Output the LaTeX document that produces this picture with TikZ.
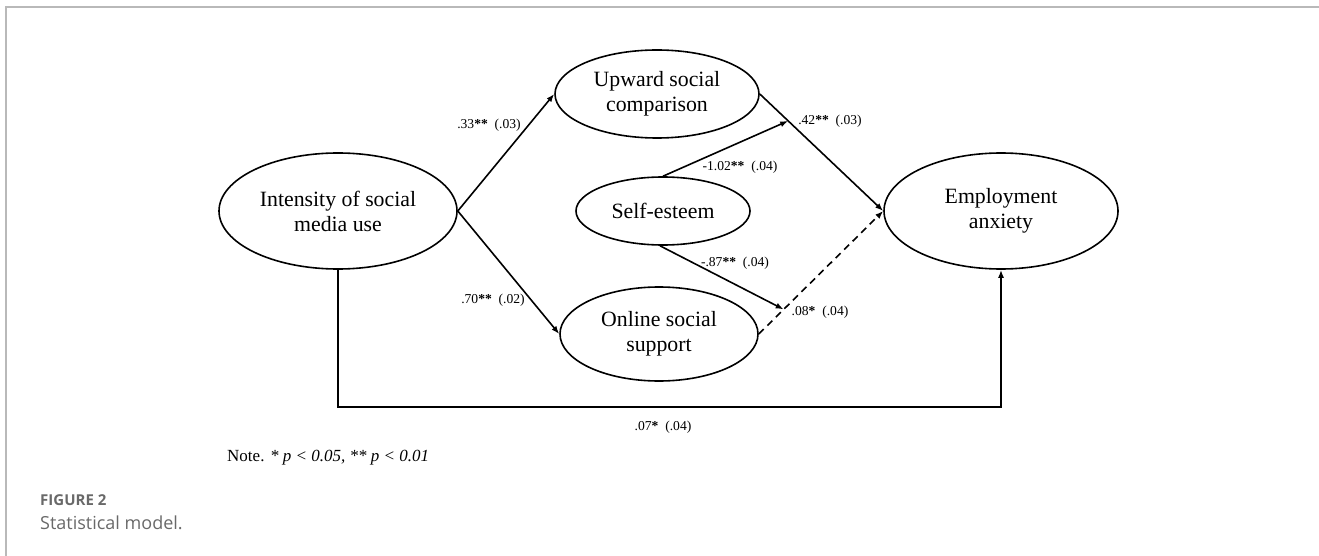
\documentclass[tikz,border=0pt]{standalone}
\usepackage{fontspec}
\setmainfont{Liberation Serif}
\newfontfamily\capfont{Open Sans}
\usetikzlibrary{shapes.geometric,arrows.meta}
\definecolor{framegray}{RGB}{185,185,185}
\definecolor{capgray}{RGB}{105,105,105}
\tikzset{
  latent/.style={ellipse,draw,line width=1.6pt,inner sep=0pt,align=center,
    font=\fontsize{21.8}{25}\selectfont},
  path/.style={line width=1.6pt,-{Latex[length=8pt,width=6pt]}},
  coef/.style={font=\fontsize{13.6}{15}\selectfont,inner sep=0pt},
}
\newcommand{\st}[1]{\textbf{#1}}
\begin{document}
\begin{tikzpicture}[x=1pt,y=-1pt]
\useasboundingbox (0,0) rectangle (1319,556);
\draw[framegray,line width=2pt] (6,556) -- (6,7) -- (1319,7);

\node[latent,minimum width=238pt,minimum height=116pt] (int) at (338,211) {Intensity of social\\media use};
\node[latent,minimum width=204pt,minimum height=88pt] (up) at (657,94) {Upward social\\comparison};
\node[latent,minimum width=174pt,minimum height=68pt] (se) at (663,211) {Self-esteem};
\node[latent,minimum width=198pt,minimum height=94pt] (os) at (659,334) {Online social\\support};
\node[latent,minimum width=234pt,minimum height=116pt] (emp) at (1001,211) {Employment\\anxiety};

\draw[path] (int.east) -- (up.west);
\draw[path] (int.east) -- (os.west);
\draw[path] (up.east) -- coordinate[pos=0.23] (m1) (emp.west);
\draw[path,dashed,dash pattern=on 7pt off 5pt] (os.east) -- coordinate[pos=0.2] (m2) (emp.west);
\draw[path] (se.north) -- (m1);
\draw[path] (se.south) ++(-3,0) coordinate (ses) -- (m2);
\draw[path] (int.south) |- (338,407) coordinate (c1) -| (emp.south);

\node[coef] (l1) at (489,125) {.33\st{**}\ \ (.03)};
\node[coef] (l2) at (493,300) {.70\st{**}\ \ (.02)};
\node[coef] (l3) at (830,121) {.42\st{**}\ \ (.03)};
\node[coef] (l4) at (740,167) {-1.02\st{**}\ \ (.04)};
\node[coef] (l5) at (735,263) {-.87\st{**}\ \ (.04)};
\node[coef] (l6) at (820,312) {.08\st{*}\ \ (.04)};
\node[coef] (l7) at (663,427) {.07\st{*}\ \ (.04)};

\node[anchor=west,inner sep=0pt,font=\fontsize{17}{19}\selectfont] (note) at (227,458) {Note. \textit{* p < 0.05, ** p < 0.01}};

\node[anchor=west,inner sep=0pt,text=capgray,font=\capfont\bfseries\fontsize{15}{18}\selectfont] (fig) at (40,500) {FIGURE 2};
\node[anchor=west,inner sep=0pt,text=capgray,font=\capfont\fontsize{18}{20}\selectfont] (cap) at (40,523) {Statistical model.};
\end{tikzpicture}
\end{document}
